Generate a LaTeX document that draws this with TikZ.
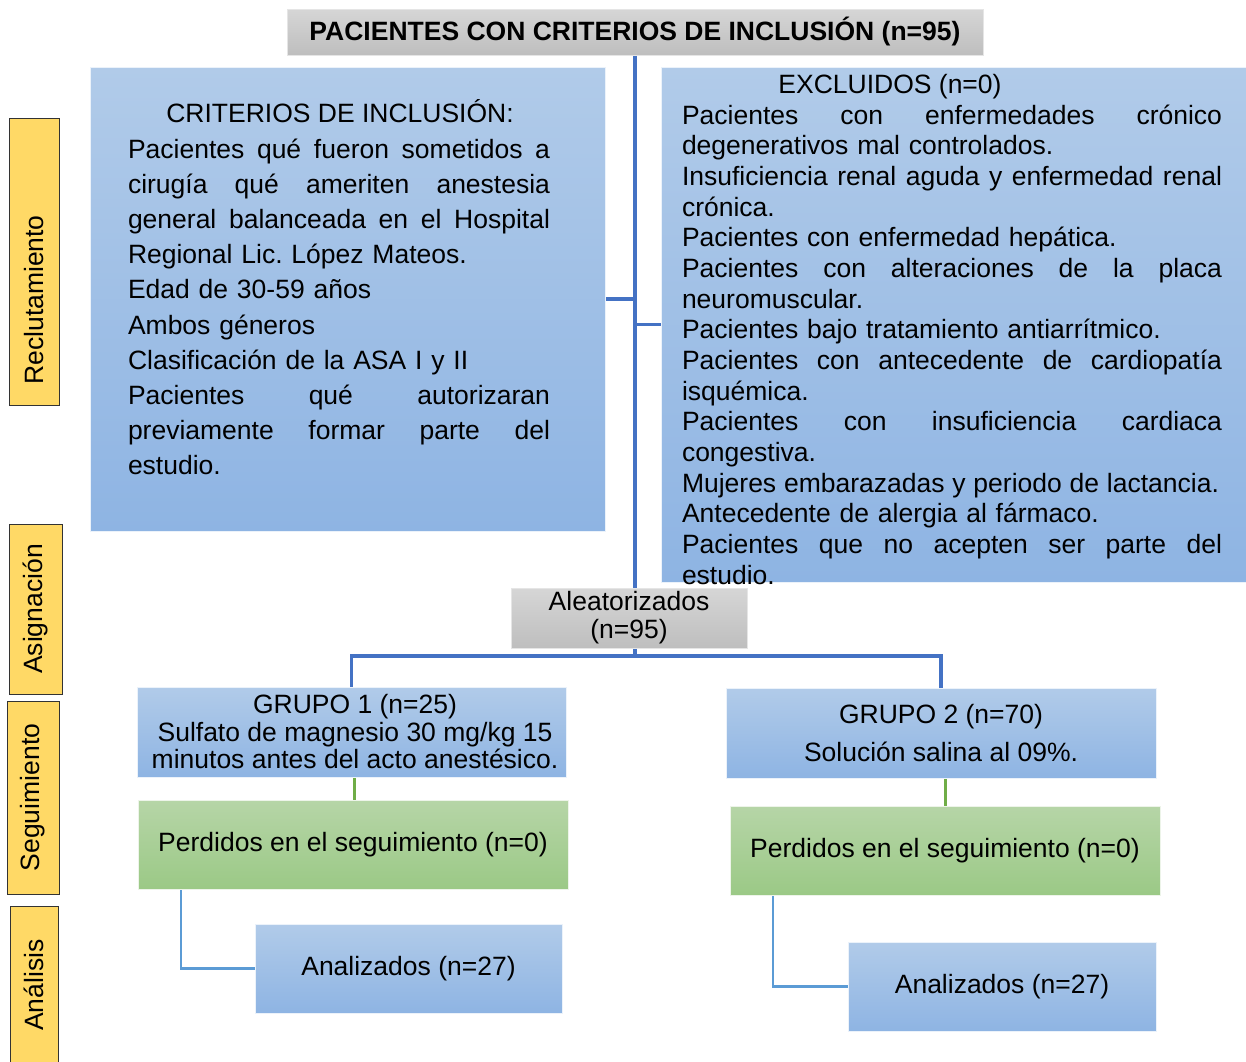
\documentclass[tikz,border=0pt]{standalone}
\usepackage{fontspec}
\setmainfont{Liberation Sans}
\usetikzlibrary{calc}
\pgfdeclarelayer{bg}
\pgfsetlayers{bg,main}
\definecolor{bTop}{HTML}{B1CBE9}
\definecolor{bBot}{HTML}{8EB4E3}
\definecolor{gTop}{HTML}{D6D6D6}
\definecolor{gBot}{HTML}{BEBEBE}
\definecolor{vTop}{HTML}{B6D5A7}
\definecolor{vBot}{HTML}{9BC986}
\definecolor{yel}{HTML}{FFD966}
\definecolor{lnBlue}{HTML}{4472C4}
\definecolor{lnLight}{HTML}{5B9BD5}
\definecolor{lnGreen}{HTML}{70AD47}
\newcommand\JL[2]{\leavevmode\hbox to #1{\spaceskip=0.278em plus 1fil\relax\xspaceskip=0.278em plus 1fil\relax #2}}
\begin{document}
\begin{tikzpicture}[x=1pt,y=-1pt,
  box/.style={inner sep=0pt, outer sep=0pt, draw=white!75!bTop, line width=0.8pt},
  bluebox/.style={box, top color=bTop, bottom color=bBot},
  graybox/.style={box, draw=white!80!gray, top color=gTop, bottom color=gBot},
  greenbox/.style={box, draw=white!75!vTop, top color=vTop, bottom color=vBot},
  side/.style={inner sep=0pt, outer sep=0pt, draw=black!80, line width=0.9pt, fill=yel},
  sidetxt/.style={inner sep=0pt, outer sep=0pt, rotate=90, font=\fontsize{26.5}{30}\selectfont},
  txt/.style={inner sep=0pt, outer sep=0pt, font=\fontsize{26.5}{30}\selectfont},
  conn/.style={draw=lnBlue, line width=3.2pt},
  conn2/.style={draw=lnLight, line width=2.8pt},
  conn3/.style={draw=lnGreen, line width=3pt}]
\useasboundingbox (0,0) rectangle (1246,1061);

% boxes
\node[graybox, minimum width=696pt, minimum height=46pt] (title) at (635,32) {};
\node[bluebox, minimum width=515pt, minimum height=464pt] (crit) at (347.5,299) {};
\node[bluebox, minimum width=585pt, minimum height=515pt] (excl) at (953.5,324.5) {};
\node[graybox, minimum width=236pt, minimum height=60pt] (alea) at (629,618) {};
\node[bluebox, minimum width=429pt, minimum height=90pt] (g1) at (351.5,732) {};
\node[bluebox, minimum width=430pt, minimum height=90pt] (g2) at (941,733) {};
\node[greenbox, minimum width=430pt, minimum height=89pt] (p1) at (353,844.5) {};
\node[greenbox, minimum width=430pt, minimum height=89pt] (p2) at (945,850.5) {};
\node[bluebox, minimum width=307pt, minimum height=89pt] (a1) at (408.5,968.5) {};
\node[bluebox, minimum width=308pt, minimum height=89pt] (a2) at (1002,986.5) {};

% side labels
\node[side, minimum width=50pt, minimum height=287pt] (s1) at (34,261.5) {};
\node[side, minimum width=53pt, minimum height=170pt] (s2) at (35.5,609) {};
\node[side, minimum width=52pt, minimum height=193pt] (s3) at (33,797.5) {};
\node[side, minimum width=48pt, minimum height=170pt] (s4) at (34,991) {};
\node[sidetxt] (s1t) at (34,300) {Reclutamiento};
\node[sidetxt] (s2t) at (s2.center) {Asignación};
\node[sidetxt] (s3t) at (s3.center) {Seguimiento};
\node[sidetxt] (s4t) at (34,985) {Análisis};

% texts
\node[txt, font=\bfseries\fontsize{26.5}{30}\selectfont] (titletxt) at (title.center) {PACIENTES CON CRITERIOS DE INCLUSIÓN (n=95)};
\node[txt, anchor=base] (crithead) at (340,122) {CRITERIOS DE INCLUSIÓN:};
\node[txt, anchor=base west, text width=460pt, align=left, font=\fontsize{26.5}{35.2}\selectfont] (critbody) at (128,158) {%
\JL{422pt}{Pacientes qué fueron sometidos a}\\
\JL{422pt}{cirugía qué ameriten anestesia}\\
\JL{422pt}{general balanceada en el Hospital}\\
Regional Lic.\ López Mateos.\\
Edad de 30-59 años\\
Ambos géneros\\
Clasificación de la ASA I y II\\
\JL{422pt}{Pacientes qué autorizaran}\\
\JL{422pt}{previamente formar parte del}\\
estudio.};
\node[txt, anchor=base] (exclhead) at (890,93.5) {EXCLUIDOS (n=0)};
\node[txt, anchor=base west, text width=600pt, align=left, font=\fontsize{26.5}{30.67}\selectfont] (exclbody) at (682,124) {%
\JL{540pt}{Pacientes con enfermedades crónico}\\
degenerativos mal controlados.\\
\JL{540pt}{Insuficiencia renal aguda y enfermedad renal}\\
crónica.\\
Pacientes con enfermedad hepática.\\
\JL{540pt}{Pacientes con alteraciones de la placa}\\
neuromuscular.\\
Pacientes bajo tratamiento antiarrítmico.\\
\JL{540pt}{Pacientes con antecedente de cardiopatía}\\
isquémica.\\
\JL{540pt}{Pacientes con insuficiencia cardiaca}\\
congestiva.\\
\leavevmode\hbox to 537pt{\spaceskip=0.24em plus 1fil\relax Mujeres embarazadas y periodo de lactancia.}\\
Antecedente de alergia al fármaco.\\
\JL{540pt}{Pacientes que no acepten ser parte del}\\
estudio.};
\node[txt, align=center, font=\fontsize{26.5}{28}\selectfont] (aleatxt) at (alea.center) {Aleatorizados\\(n=95)};
\node[txt, align=center, font=\fontsize{26.5}{27.5}\selectfont] (g1txt) at (355,732) {GRUPO 1 (n=25)\\Sulfato de magnesio 30 mg/kg 15\\minutos antes del acto anestésico.};
\node[txt, align=center, font=\fontsize{26.5}{38}\selectfont] (g2txt) at (g2.center) {GRUPO 2 (n=70)\\Solución salina al 09\%.};
\node[txt] (p1txt) at (p1.center) {Perdidos en el seguimiento (n=0)};
\node[txt] (p2txt) at (p2.center) {Perdidos en el seguimiento (n=0)};
\node[txt] (a1txt) at (a1.center) {Analizados (n=27)};
\node[txt] (a2txt) at (a2.center) {Analizados (n=27)};

% connectors
\begin{pgfonlayer}{bg}
\coordinate (j) at ($(title.south)+(0,601)$);
\draw[conn] (title.south) -- (j);
\draw[conn] (crit.east) -- (crit.east -| title.south);
\draw[conn] (excl.west) -- (excl.west -| title.south);
\draw[conn] (j) -| (g1.north);
\draw[conn] (j) -| (g2.north);
\draw[conn3] (g1.south -| 354,0) -- (p1.north -| 354,0);
\draw[conn3] (p2.north) -- (p2.north |- g2.south);
\draw[conn2] ([xshift=43pt]p1.south west) |- (a1.west);
\draw[conn2] ([xshift=43pt]p2.south west) |- (a2.west);
\end{pgfonlayer}
\end{tikzpicture}
\end{document}
